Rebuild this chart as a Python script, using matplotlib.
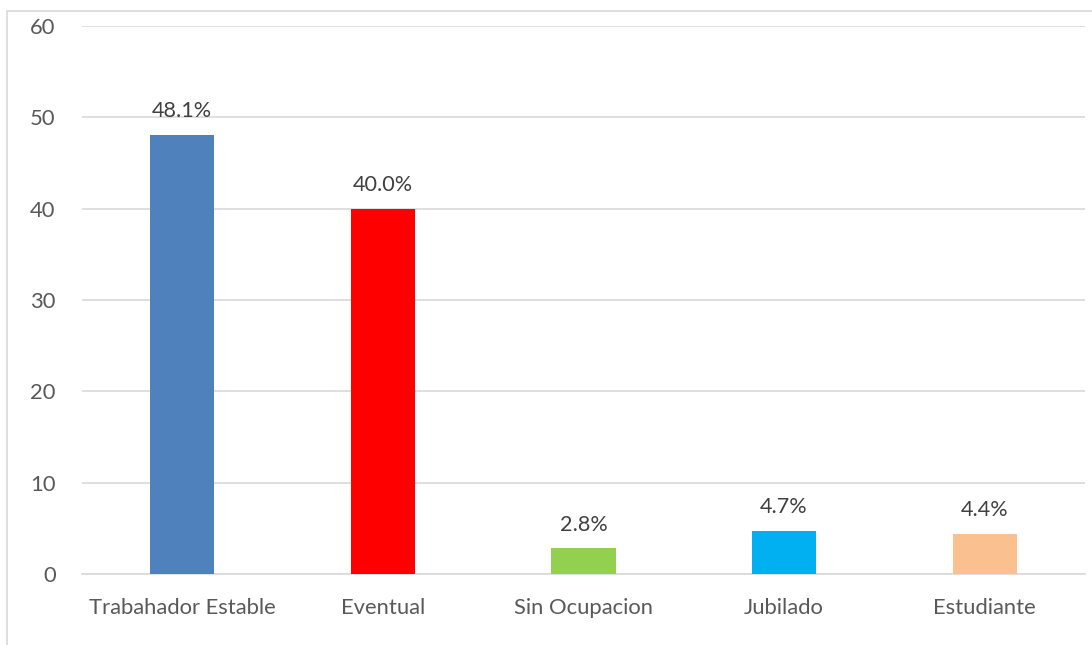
import matplotlib
matplotlib.use("Agg")
import matplotlib.pyplot as plt
from matplotlib.patches import Rectangle

categories = ["Trabahador Estable", "Eventual", "Sin Ocupacion", "Jubilado", "Estudiante"]
values = [48.1, 40.0, 2.8, 4.7, 4.4]
labels = ["48.1%", "40.0%", "2.8%", "4.7%", "4.4%"]
colors = ["#4f81bd", "#ff0000", "#92d050", "#00b0f0", "#fac090"]
yticks = [0, 10, 20, 30, 40, 50, 60]

plt.rcParams["font.family"] = ["Lato", "DejaVu Sans"]

fig = plt.figure(figsize=(10.92, 6.45), dpi=100)
fig.patch.set_facecolor("white")

# outer chart frame
fig.patches.append(Rectangle((7 / 1092, -0.1), 1.2, 1.1 - 11 / 645,
                             transform=fig.transFigure, fill=False,
                             edgecolor="#d9d9d9", linewidth=1.2))

ax = fig.add_axes([82 / 1092, 1 - 574 / 645, 1003 / 1092, 548 / 645])
x = range(len(categories))
bars = ax.bar(x, values, width=0.32, color=colors, zorder=3)

for b, lab in zip(bars, labels):
    ax.text(b.get_x() + b.get_width() / 2, b.get_height() + 1.5, lab,
            ha="center", va="bottom", fontsize=15.6, color="#404040")

ax.set_xlim(-0.5, len(categories) - 0.5)
ax.set_ylim(0, 60)
ax.set_yticks(yticks)
ax.set_xticks(list(x))
ax.set_xticklabels(categories)
ax.tick_params(axis="both", length=0, labelsize=15.8, labelcolor="#595959")
ax.tick_params(axis="y", pad=19)
ax.tick_params(axis="x", pad=17)
ax.grid(axis="y", color="#d9d9d9", linewidth=1.2, zorder=0)
for s in ["top", "right", "left"]:
    ax.spines[s].set_visible(False)
ax.spines["bottom"].set_color("#d9d9d9")
ax.spines["bottom"].set_linewidth(1.2)

fig.savefig("out.png", dpi=100)
